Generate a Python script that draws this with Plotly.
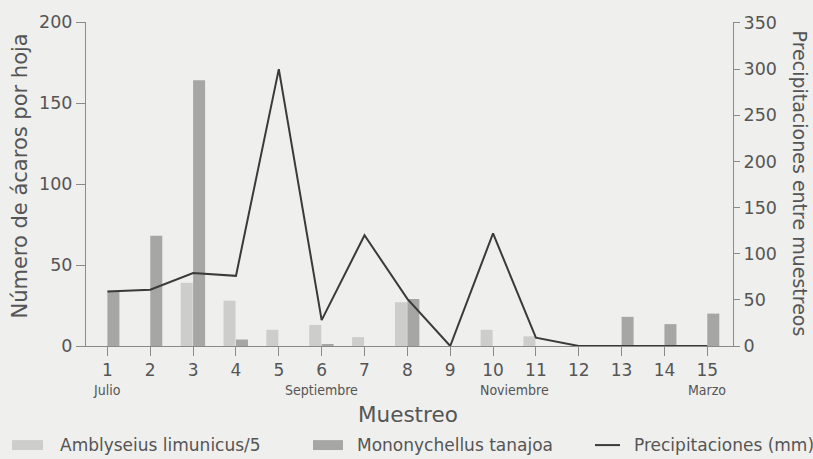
import plotly.graph_objects as go

# ---- data ----
muestreo = list(range(1, 16))
amblyseius_div5 = [0, 0, 39, 28, 10, 13, 5.5, 27, 0, 10, 6, 0, 0, 0, 0]
mononychellus = [34, 68, 164, 4, 0, 1, 0, 29, 0, 0, 0, 0, 18, 13.5, 20]
precipitaciones = [59, 61, 79, 76, 300, 28, 120, 51, 0, 122, 9, 0, 0, 0, 0]
meses = ["Julio", "Septiembre", "Noviembre", "Marzo"]
meses_pos = [1, 6, 10.5, 15]
left_ticks = [0, 50, 100, 150, 200]
right_ticks = [0, 50, 100, 150, 200, 250, 300, 350]

W, H = 813, 459
L, R, T, B = 86, 733, 19, 346
FONT = "DejaVu Sans"
TXT = "#555555"
AX = "#8a8a8a"
LIGHT = "#cdcdcb"
DARK = "#a6a6a4"
LINE = "#3a3a3a"


def px(x):
    return (x - L) / (R - L)


def py(y):
    return (B - y) / (B - T)


fig = go.Figure()
fig.add_trace(go.Bar(x=muestreo, y=amblyseius_div5, width=0.28, offset=-0.29,
                     marker=dict(color=LIGHT, line=dict(width=0)),
                     name="Amblyseius limunicus/5"))
fig.add_trace(go.Bar(x=muestreo, y=mononychellus, width=0.28, offset=0.0,
                     marker=dict(color=DARK, line=dict(width=0)),
                     name="Mononychellus tanajoa"))
fig.add_trace(go.Scatter(x=muestreo, y=precipitaciones, mode="lines", yaxis="y2",
                         line=dict(color=LINE, width=2), name="Precipitaciones (mm)"))

annotations = []
for m, p in zip(meses, meses_pos):
    annotations.append(dict(x=p, xref="x", y=py(390), yref="paper", text=m,
                            showarrow=False, font=dict(family="DejaVu Sans Condensed", size=14, color=TXT),
                            xanchor="center", yanchor="middle", borderpad=0))
annotations.append(dict(x=px(408), xref="paper", y=py(415), yref="paper", text="Muestreo",
                        showarrow=False, font=dict(family=FONT, size=21.5, color=TXT),
                        xanchor="center", yanchor="middle"))
annotations.append(dict(x=px(20), xref="paper", y=py(175), yref="paper",
                        text="Número de ácaros por hoja", textangle=-90,
                        showarrow=False, font=dict(family=FONT, size=21, color=TXT),
                        xanchor="center", yanchor="middle"))
annotations.append(dict(x=px(800), xref="paper", y=py(182), yref="paper",
                        text="Precipitaciones entre muestreos", textangle=90,
                        showarrow=False, font=dict(family=FONT, size=19, color=TXT),
                        xanchor="center", yanchor="middle"))

# custom legend
leg_y = 446
legend_items = [("Amblyseius limunicus/5", 58), ("Mononychellus tanajoa", 355), ("Precipitaciones (mm)", 632)]
for text, x0 in legend_items:
    annotations.append(dict(x=px(x0), xref="paper", y=py(leg_y), yref="paper", text=text,
                            showarrow=False, font=dict(family=FONT, size=17, color=TXT),
                            xanchor="left", yanchor="middle"))
shapes = [
    dict(type="rect", xref="paper", yref="paper", x0=px(12), x1=px(43), y0=py(451), y1=py(441),
         fillcolor=LIGHT, line=dict(width=0)),
    dict(type="rect", xref="paper", yref="paper", x0=px(313), x1=px(343), y0=py(451), y1=py(441),
         fillcolor=DARK, line=dict(width=0)),
    dict(type="line", xref="paper", yref="paper", x0=px(595), x1=px(620), y0=py(446), y1=py(446),
         line=dict(color=LINE, width=2)),
]

fig.update_layout(
    width=W, height=H,
    margin=dict(l=L, r=W - R, t=T, b=H - B, pad=0),
    paper_bgcolor="#efefed", plot_bgcolor="#efefed",
    showlegend=False, barmode="overlay",
    font=dict(family=FONT, color=TXT),
    xaxis=dict(range=[0.5, 15.6], tickvals=muestreo, ticks="outside", ticklen=9,
               tickcolor=AX, showline=True, linecolor=AX, linewidth=1, showgrid=False,
               zeroline=False, tickfont=dict(size=17, color=TXT)),
    yaxis=dict(range=[0, 200], tickvals=left_ticks, ticks="outside", ticklen=9,
               tickcolor=AX, showline=True, linecolor=AX, linewidth=1, showgrid=False,
               zeroline=False, tickfont=dict(size=17.5, color=TXT)),
    yaxis2=dict(range=[0, 351], tickvals=right_ticks, overlaying="y", side="right",
                ticks="outside", ticklen=6, tickcolor=AX, showline=True, linecolor=AX,
                linewidth=1, showgrid=False, zeroline=False, tickfont=dict(size=17.5, color=TXT)),
    annotations=annotations, shapes=shapes,
)

fig.write_html("out.html", config={"displayModeBar": False},
               post_script="document.body.style.margin='0';document.body.style.padding='0';"
                           "document.body.style.background='#efefed';")
